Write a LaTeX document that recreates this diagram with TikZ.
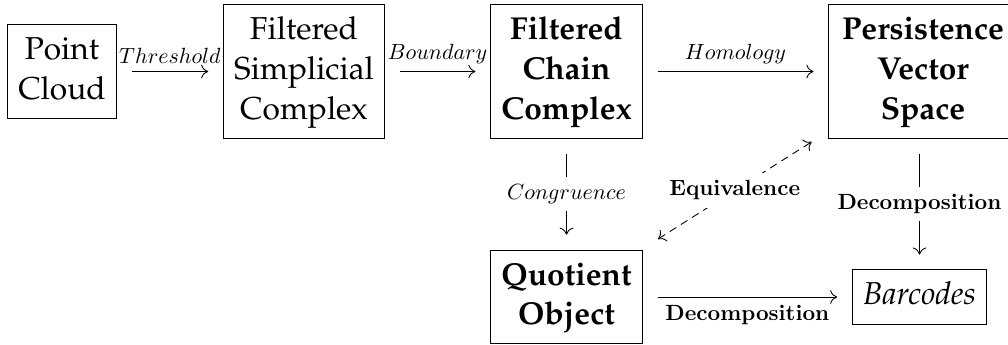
\documentclass[tikz,border=0pt]{standalone}
\usepackage[T1]{fontenc}
\renewcommand{\rmdefault}{ppl}
\usetikzlibrary{arrows.meta}
\tikzset{
  box/.style={draw, line width=0.4pt, font=\Large, align=center,
    inner xsep=4.8pt, inner ysep=3.3pt},
  arr/.style={-{Computer Modern Rightarrow[length=3.2pt, width=6.2pt]},
    line width=0.4pt, shorten <=6.8pt, shorten >=6.8pt},
  dasharr/.style={{Computer Modern Rightarrow[length=3.2pt, width=6.2pt]}-{Computer Modern Rightarrow[length=3.2pt, width=6.2pt]},
    line width=0.4pt, dash pattern=on 3.5pt off 2.5pt,
    shorten <=9pt, shorten >=9pt},
  lab/.style={font=\normalsize, inner sep=0.3333em},
  desc/.style={lab, fill=white},
}
\begin{document}
\begin{tikzpicture}[x=0.45454pt, y=-0.45454pt]
\useasboundingbox (0,0) rectangle (1008,345);

% pipeline objects
\node[box] (pc)  at (62,71.5)   {\strut Point\\\strut Cloud};
\node[box] (fsc) at (304,71.5)  {\strut Filtered\\\strut Simplicial\\\strut Complex};
\node[box] (fcc) at (566.5,71.5){\strut\textbf{Filtered}\\\strut\textbf{Chain}\\\strut\textbf{Complex}};
\node[box, inner xsep=6pt] (pvs) at (923,71.5)
  {\strut\textbf{Persistence}\\\strut\textbf{Vector}\\\strut\textbf{Space}};
\node[box] (qo)  at (566.5,297) {\strut\textbf{Quotient}\\\strut\textbf{Object}};
\node[box] (bc)  at (919.5,297) {\strut\textit{Barcodes}};

% maps between them
\draw[arr] (pc) -- node[lab, above] {$Threshold$} (fsc);
\draw[arr] (fsc) -- node[lab, above] {$Boundary$} (fcc);
\draw[arr] (fcc) -- node[lab, above] {$Homology$} (pvs);
\draw[arr] (fcc) -- node[desc] {$Congruence$} (qo);
\draw[arr] (pvs.south -| bc) -- node[desc] {$\mathbf{Decomposition}$} (bc);
\draw[arr] (qo) -- node[lab, below] {$\mathbf{Decomposition}$} (bc);
\draw[dasharr] (qo) -- node[desc] {$\mathbf{Equivalence}$} (pvs);
\end{tikzpicture}
\end{document}
